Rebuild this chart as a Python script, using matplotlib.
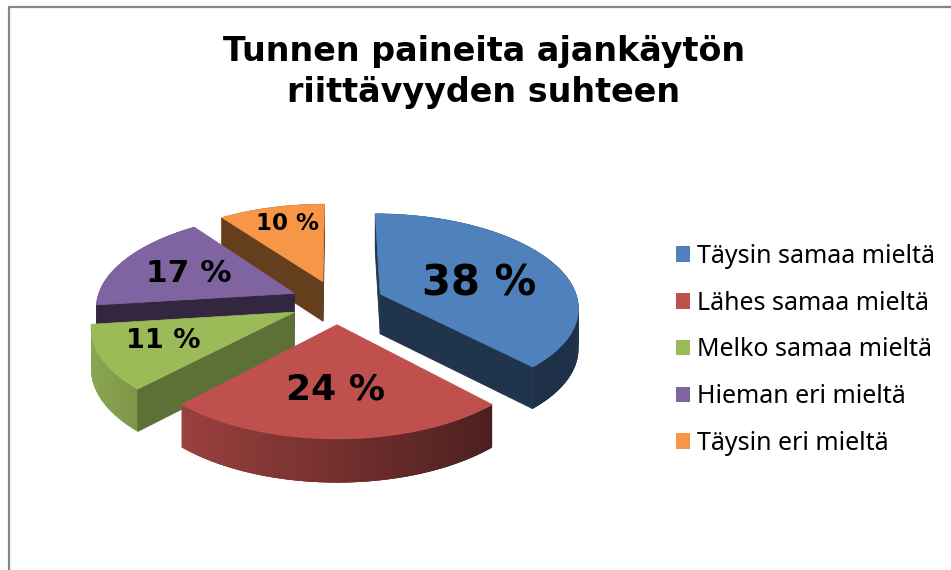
import numpy as np
import matplotlib
matplotlib.use("Agg")
import matplotlib.pyplot as plt
from matplotlib.patches import Patch

title = "Tunnen paineita ajankäytön\nriittävyyden suhteen"
labels = ["Täysin samaa mieltä", "Lähes samaa mieltä", "Melko samaa mieltä", "Hieman eri mieltä", "Täysin eri mieltä"]
values = [38, 24, 11, 17, 10]

colors = ["#4F81BD", "#C0504D", "#9BBB59", "#8064A2", "#F79646"]
wall_shade = [0.4, 0.4, 0.6, 0.39, 0.41]
label_pos = [(479, 283), (336, 390), (163, 341), (189, 273), (288, 223)]
label_size = [30, 26, 19.5, 22.5, 16.5]

# pie geometry, in pixels of the picture
cx, cy = 337, 302
R = 198
explode = 47
k = 0.131
flat = 0.468
depth = 40


def project(X, Z):
    w = 1 + k * Z / R
    return cx + X / w, cy - flat * Z / w, depth / np.sqrt(w)


def shade(c, f):
    return tuple(v * f for v in matplotlib.colors.to_rgb(c))


fig = plt.figure(figsize=(9.51, 5.70), dpi=100)
ax = fig.add_axes([0, 0, 1, 1])
ax.set_xlim(0, 951)
ax.set_ylim(570, 0)
ax.axis("off")

# chart border runs off the picture on the right and bottom
ax.plot([9, 9, 960], [580, 7, 7], color="#868686", lw=1.6, zorder=1)

edges = np.radians(np.cumsum([0] + values) * 3.6)

# back to front
order = [4, 3, 0, 2, 1]
z = 2
for i in order:
    a0, a1, col, ws = edges[i], edges[i + 1], colors[i], wall_shade[i]
    mid = (a0 + a1) / 2
    ex, ez = explode * np.sin(mid), explode * np.cos(mid)
    th = np.linspace(a0, a1, 400)
    x, y, d = project(ex + R * np.sin(th), ez + R * np.cos(th))
    ax_, ay_, ad = project(ex, ez)

    # outer wall, strip by strip for the shading, each strip overlaps the next
    for j in range(len(th) - 1):
        n = min(j + 3, len(th) - 1)
        f = np.clip(0.6 - 0.3 * np.sin(th[j]), 0.38, 0.9)
        ax.fill([x[j], x[n], x[n], x[j]],
                [y[j], y[n], y[n] + d[n], y[j] + d[j]],
                color=shade(col, f), lw=0, zorder=z)
    z += 1

    # flat cut walls, only the ones facing the viewer
    if x[0] < ax_:
        ax.fill([ax_, x[0], x[0], ax_], [ay_, y[0], y[0] + d[0], ay_ + ad],
                color=shade(col, ws), lw=0.6, zorder=z)
    if x[-1] > ax_:
        ax.fill([ax_, x[-1], x[-1], ax_], [ay_, y[-1], y[-1] + d[-1], ay_ + ad],
                color=shade(col, ws), lw=0.6, zorder=z)
    z += 1

    ax.fill(np.r_[ax_, x], np.r_[ay_, y], color=col, lw=0.5, zorder=z)
    z += 1

for v, (lx, ly), s in zip(values, label_pos, label_size):
    ax.text(lx, ly, f"{v} %", ha="center", va="center", fontsize=s,
            fontweight="bold", family="DejaVu Sans", color="black", zorder=50)

ax.text(484, 72, title, ha="center", va="center", fontsize=24, fontweight="bold",
        family="DejaVu Sans", color="black", linespacing=1.3)

handles = [Patch(facecolor=c, edgecolor="none") for c in colors]
leg = ax.legend(handles, labels, loc="center left", bbox_to_anchor=(668 / 951, 1 - 350 / 570),
                frameon=False, prop={"family": "Noto Sans", "size": 18},
                handlelength=0.57, handleheight=0.57, handletextpad=0.3,
                labelspacing=0.87, borderaxespad=0, borderpad=0.3)

fig.savefig("out.png", dpi=100)
